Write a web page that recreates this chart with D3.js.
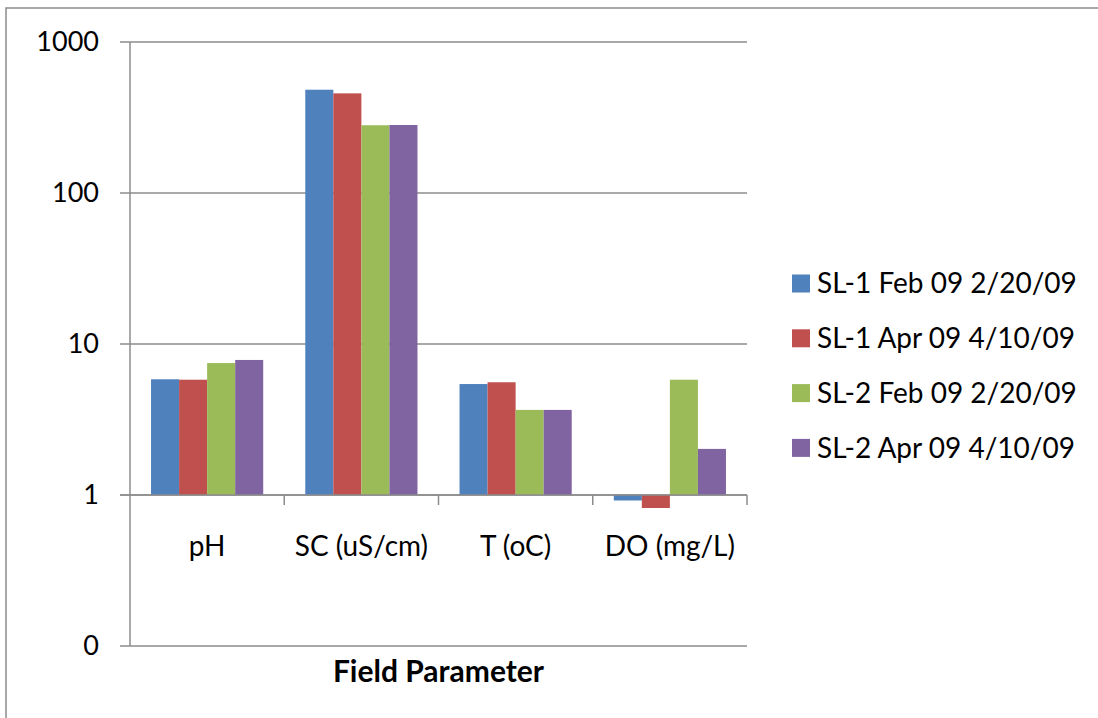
<!DOCTYPE html>
<html><head><meta charset="utf-8">
<script src="https://cdn.jsdelivr.net/npm/d3@7"></script>
<style>html,body{margin:0;padding:0;background:#fff;}svg{display:block;}</style>
</head><body>
<svg id="c" width="1098" height="718"></svg>
<script>
const categories = ["pH", "SC (uS/cm)", "T (oC)", "DO (mg/L)"];
const seriesNames = ["SL-1 Feb 09 2/20/09", "SL-1 Apr 09 4/10/09", "SL-2 Feb 09 2/20/09", "SL-2 Apr 09 4/10/09"];
const sl1Feb = [5.84, 483, 5.43, 0.92];
const sl1Apr = [5.8, 457, 5.58, 0.82];
const sl2Feb = [7.48, 281, 3.66, 5.8];
const sl2Apr = [7.84, 282, 3.66, 2.02];
const colors = ["#4F81BD", "#C0504D", "#9BBB59", "#8064A2"];
const yTickValues = [0.1, 1, 10, 100, 1000];
const yTickLabels = ["0", "1", "10", "100", "1000"];
const xTitle = "Field Parameter";

const seriesValues = [sl1Feb, sl1Apr, sl2Feb, sl2Apr];
const FONT = "Lato, 'Open Sans', sans-serif";
const FS = 28;
const svg = d3.select("#c");

svg.append("rect").attr("x", 6).attr("y", 8).attr("width", 1110).attr("height", 730)
  .attr("fill", "none").attr("stroke", "#8c8c8c").attr("stroke-width", 1.5);

const pLeft = 130, pRight = 747, pTop = 42, pBottom = 646;
const y = d3.scaleLog().domain([0.1, 1000]).range([pBottom, pTop]);
const x = d3.scaleBand().domain(categories).range([pLeft, pRight]).padding(0);
const x1 = d3.scaleBand().domain(d3.range(seriesNames.length)).range([0, x.bandwidth()]).paddingInner(0).paddingOuter(0.75);

svg.append("g").selectAll("line").data(yTickValues).join("line")
  .attr("x1", pLeft - 10).attr("x2", pRight)
  .attr("y1", d => y(d)).attr("y2", d => y(d))
  .attr("stroke", "#8c8c8c").attr("stroke-width", 1.5);

svg.append("g").selectAll("text").data(yTickValues).join("text")
  .attr("x", 99).attr("y", d => y(d)).attr("dy", "0.35em")
  .attr("text-anchor", "end").attr("font-family", FONT).attr("font-size", 27).attr("fill", "#000")
  .text((d, i) => yTickLabels[i]);

const base = 1;
const g = svg.append("g");
seriesValues.forEach((vals, si) => {
  g.selectAll(null).data(vals).join("rect")
    .attr("x", (d, i) => x(categories[i]) + x1(si))
    .attr("width", x1.bandwidth())
    .attr("y", d => Math.min(y(d), y(base)))
    .attr("height", d => Math.abs(y(d) - y(base)))
    .attr("fill", colors[si]);
});

svg.append("line").attr("x1", pLeft).attr("x2", pLeft).attr("y1", pTop).attr("y2", pBottom)
  .attr("stroke", "#8c8c8c").attr("stroke-width", 1.5);

const xAxisY = y(base);
svg.append("line").attr("x1", pLeft - 10).attr("x2", pRight).attr("y1", xAxisY).attr("y2", xAxisY)
  .attr("stroke", "#8c8c8c").attr("stroke-width", 1.5);
const bounds = categories.map(c => x(c) + x.bandwidth());
svg.append("g").selectAll("line").data(bounds).join("line")
  .attr("x1", d => d).attr("x2", d => d).attr("y1", xAxisY).attr("y2", xAxisY + 10)
  .attr("stroke", "#8c8c8c").attr("stroke-width", 1.5);

svg.append("g").selectAll("text").data(categories).join("text")
  .attr("x", d => x(d) + x.bandwidth() / 2).attr("y", 556)
  .attr("text-anchor", "middle").attr("font-family", FONT).attr("font-size", FS).attr("fill", "#000")
  .text(d => d);

svg.append("text").attr("x", (pLeft + pRight) / 2).attr("y", 682)
  .attr("text-anchor", "middle").attr("font-family", FONT).attr("font-size", 30)
  .attr("font-weight", "bold").attr("fill", "#000").text(xTitle);

const lg = svg.append("g");
seriesNames.forEach((n, i) => {
  const cy = 283.5 + i * 54.8;
  lg.append("rect").attr("x", 792).attr("y", cy - 9).attr("width", 18).attr("height", 18).attr("fill", colors[i]);
  lg.append("text").attr("x", 817).attr("y", cy).attr("dy", "0.35em")
    .attr("font-family", FONT).attr("font-size", FS).attr("fill", "#000").text(n);
});
</script>
</body></html>
